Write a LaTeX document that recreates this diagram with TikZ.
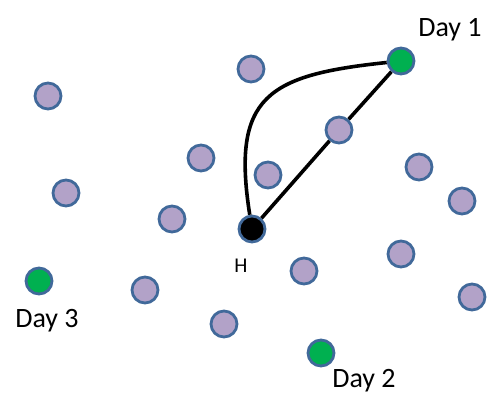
\documentclass[tikz,border=0pt]{standalone}
\usepackage{fontspec}
\setmainfont{Carlito}
\tikzset{
  stop/.style={circle,draw=border,line width=2.8pt,minimum size=26pt,inner sep=0pt,fill=lilac},
  daystop/.style={stop,fill=daygreen},
  home/.style={stop,fill=black},
  lab/.style={font=\fontsize{28}{30}\selectfont},
  route/.style={line width=3.6pt}
}
\definecolor{border}{HTML}{41699A}
\definecolor{lilac}{HTML}{B2A2C8}
\definecolor{daygreen}{HTML}{00B050}
\begin{document}
\begin{tikzpicture}[x=1pt,y=-1pt]
\useasboundingbox (0,0) rectangle (494,398);
% depot and the three day stops
\node[home] (h) at (252,229) {};
\node[daystop] (d1) at (401,61) {};
\node[daystop] (d2) at (321,353) {};
\node[daystop] (d3) at (39,281) {};
% other customers
\node[stop] (c1) at (251,69) {};
\node[stop] (c2) at (48,96) {};
\node[stop] (c3) at (339,130) {};
\node[stop] (c4) at (201,158) {};
\node[stop] (c5) at (268,175) {};
\node[stop] (c6) at (419,167) {};
\node[stop] (c7) at (66,193) {};
\node[stop] (c8) at (172,219) {};
\node[stop] (c9) at (462,201) {};
\node[stop] (c10) at (401,254) {};
\node[stop] (c11) at (304,271) {};
\node[stop] (c12) at (145,290) {};
\node[stop] (c13) at (472,297) {};
\node[stop] (c14) at (224,324) {};
% labels
\node[lab] (l1) at (450,30) {Day 1};
\node[lab] (l2) at (364,381) {Day 2};
\node[lab] (l3) at (47,321) {Day 3};
\node[font=\fontsize{21}{24}\selectfont] (lh) at (241,266) {H};
% routes
\draw[route] (h) -- (c3) -- (d1);
\draw[route] (h) .. controls (231,96) and (268,75) .. (d1);
\end{tikzpicture}
\end{document}
